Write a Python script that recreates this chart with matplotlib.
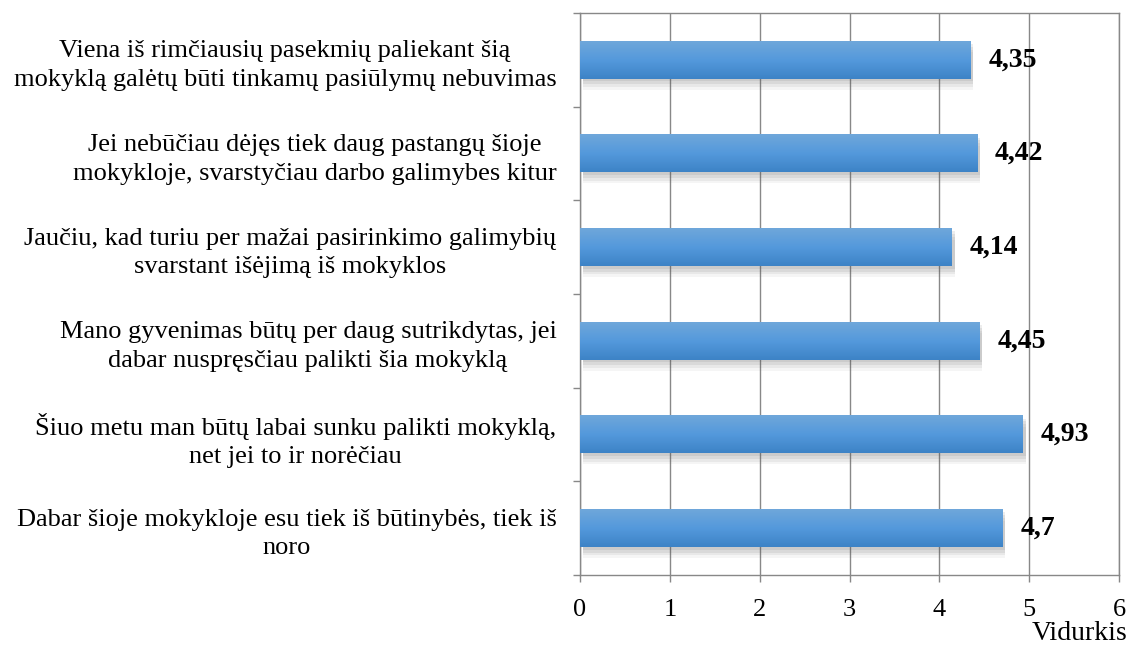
import numpy as np
import matplotlib.pyplot as plt
from matplotlib.colors import LinearSegmentedColormap

kategorijos = [
    "Viena iš rimčiausių pasekmių paliekant šią\nmokyklą galėtų būti tinkamų pasiūlymų nebuvimas",
    "Jei nebūčiau dėjęs tiek daug pastangų šioje\nmokykloje, svarstyčiau darbo galimybes kitur",
    "Jaučiu, kad turiu per mažai pasirinkimo galimybių\nsvarstant išėjimą iš mokyklos",
    "Mano gyvenimas būtų per daug sutrikdytas, jei\ndabar nuspręsčiau palikti šia mokyklą",
    "Šiuo metu man būtų labai sunku palikti mokyklą,\nnet jei to ir norėčiau",
    "Dabar šioje mokykloje esu tiek iš būtinybės, tiek iš\nnoro",
]
vidurkiai = [4.35, 4.42, 4.14, 4.45, 4.93, 4.7]
x_ticks = [0, 1, 2, 3, 4, 5, 6]

plt.rcParams['font.family'] = ['Liberation Serif', 'DejaVu Serif']

fig = plt.figure(figsize=(11.29, 6.48), dpi=100)
ax = fig.add_axes([580 / 1129, 1 - 575 / 648, 539 / 1129, 562 / 648])

y = np.arange(len(kategorijos))[::-1]
h = 0.4

# seselis po stulpeliais
for k, a in [(0.12, 0.06), (0.09, 0.08), (0.06, 0.10), (0.03, 0.10)]:
    ax.barh(y - k, vidurkiai, height=h, left=0.03, color='#555555',
            alpha=a, linewidth=0, zorder=2)

bars = ax.barh(y, vidurkiai, height=h, color='#4f93d6', linewidth=0, zorder=3)

cmap = LinearSegmentedColormap.from_list('mel', ['#3d83c6', '#5499dc', '#6fa7da'])
grad = np.linspace(0, 1, 100).reshape(-1, 1)
for b in bars:
    x0, y0 = b.get_x(), b.get_y()
    ax.imshow(grad, extent=[x0, x0 + b.get_width(), y0, y0 + b.get_height()],
              origin='lower', cmap=cmap, aspect='auto', zorder=4)

for yi, v in zip(y, vidurkiai):
    ax.text(v + 0.2, yi, f"{v:g}".replace('.', ','), va='center', ha='left',
            fontsize=20, fontweight='bold', zorder=5)

ax.set_xlim(0, 6)
ax.set_ylim(-0.5, len(kategorijos) - 0.5)
ax.set_xticks(x_ticks)
ax.set_xticklabels([str(t) for t in x_ticks], fontsize=19)
ax.set_yticks(y)
ax.set_yticklabels(kategorijos, fontsize=19, multialignment='center', linespacing=1.4)
ax.set_yticks(np.arange(-0.5, len(kategorijos), 1), minor=True)
ax.tick_params(axis='y', which='major', length=0, pad=17)
ax.tick_params(axis='y', which='minor', length=5, color='#888888', width=1)
ax.tick_params(axis='x', length=5, color='#888888', width=1, pad=12)

ax.grid(axis='x', color='#888888', linewidth=1, zorder=1)
ax.set_axisbelow(True)
for s in ax.spines.values():
    s.set_color('#888888')
    s.set_linewidth(1)

fig.text(1127 / 1129, 1 - 634 / 648, "Vidurkis", ha='right', va='center', fontsize=20)

fig.savefig('out.png', dpi=100)
